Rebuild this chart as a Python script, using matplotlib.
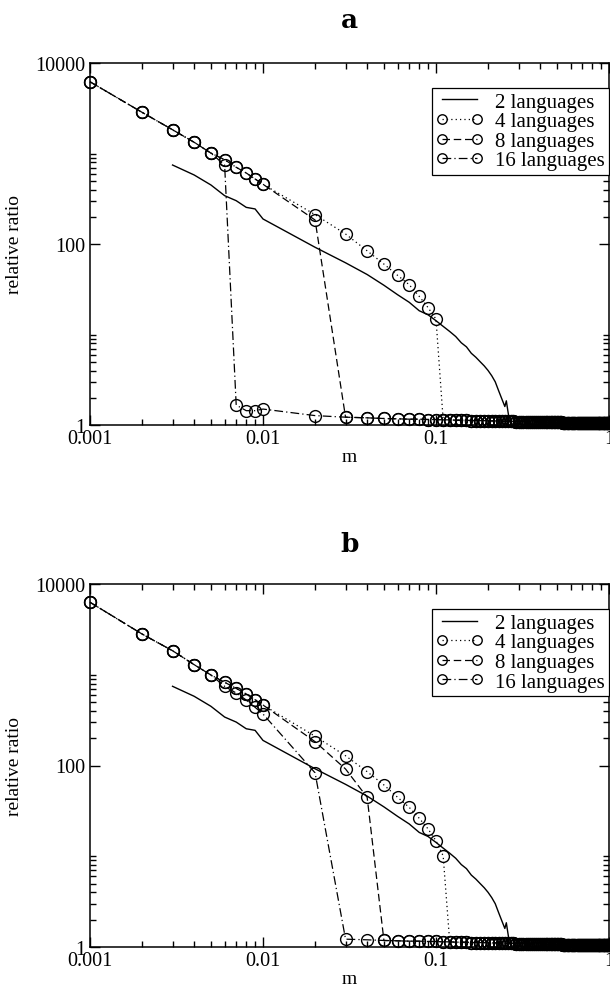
import numpy as np
import matplotlib.pyplot as plt
from matplotlib.ticker import FixedLocator, FixedFormatter, NullFormatter

plt.rcParams['font.family'] = ['Liberation Serif', 'DejaVu Serif']

# m grid: fine part (0.001 .. 0.009) and coarse part (0.01 .. 1.00)
m_fine = [0.001, 0.002, 0.003, 0.004, 0.005, 0.006, 0.007, 0.008, 0.009]
m_coarse = [0.01, 0.02, 0.03, 0.04, 0.05, 0.06, 0.07, 0.08, 0.09, 0.10,
            0.11, 0.12, 0.13, 0.14, 0.15, 0.16, 0.17, 0.18, 0.19, 0.20,
            0.21, 0.22, 0.23, 0.24, 0.25, 0.26, 0.27, 0.28, 0.29, 0.30,
            0.31, 0.32, 0.33, 0.34, 0.35, 0.36, 0.37, 0.38, 0.39, 0.40,
            0.41, 0.42, 0.43, 0.44, 0.45, 0.46, 0.47, 0.48, 0.49, 0.50,
            0.51, 0.52, 0.53, 0.54, 0.55, 0.56, 0.57, 0.58, 0.59, 0.60,
            0.61, 0.62, 0.63, 0.64, 0.65, 0.66, 0.67, 0.68, 0.69, 0.70,
            0.71, 0.72, 0.73, 0.74, 0.75, 0.76, 0.77, 0.78, 0.79, 0.80,
            0.81, 0.82, 0.83, 0.84, 0.85, 0.86, 0.87, 0.88, 0.89, 0.90,
            0.91, 0.92, 0.93, 0.94, 0.95, 0.96, 0.97, 0.98, 0.99, 1.00]
m_all = m_fine + m_coarse

# level after the collapse (one value per m_coarse entry)
collapsed = [1.50, 1.27, 1.22, 1.20, 1.18, 1.17, 1.16, 1.16, 1.15, 1.15,
             1.14, 1.14, 1.13, 1.13, 1.13, 1.12, 1.12, 1.12, 1.12, 1.11,
             1.11, 1.11, 1.11, 1.10, 1.10, 1.10, 1.10, 1.10, 1.09, 1.09,
             1.09, 1.09, 1.09, 1.09, 1.08, 1.08, 1.08, 1.08, 1.08, 1.08,
             1.08, 1.08, 1.07, 1.07, 1.07, 1.07, 1.07, 1.07, 1.07, 1.07,
             1.07, 1.07, 1.07, 1.06, 1.06, 1.06, 1.06, 1.06, 1.06, 1.06,
             1.06, 1.06, 1.06, 1.06, 1.06, 1.06, 1.06, 1.06, 1.05, 1.05,
             1.05, 1.05, 1.05, 1.05, 1.05, 1.05, 1.05, 1.05, 1.05, 1.05,
             1.05, 1.05, 1.05, 1.05, 1.05, 1.05, 1.05, 1.05, 1.05, 1.05,
             1.05, 1.05, 1.05, 1.05, 1.05, 1.05, 1.05, 1.05, 1.05, 1.05]

# 2 languages (same curve in both panels)
two_m = [0.003, 0.004, 0.005, 0.006, 0.007, 0.008, 0.009, 0.01, 0.02, 0.03,
         0.04, 0.05, 0.06, 0.07, 0.08, 0.09, 0.10, 0.11, 0.12, 0.13,
         0.14, 0.15, 0.16, 0.17, 0.18, 0.19, 0.20, 0.21, 0.22, 0.23,
         0.24, 0.25, 0.255, 0.26, 0.265, 0.27, 0.30, 0.50, 1.00]
two_v = [746, 579, 449, 342, 301, 254, 244, 189, 92, 62,
         46, 35, 27.5, 22.7, 18.3, 16.5, 14.2, 12.3, 10.8, 9.5,
         8.1, 7.3, 6.2, 5.6, 5.0, 4.5, 4.0, 3.5, 3.0, 2.4,
         1.95, 1.6, 1.85, 1.45, 1.15, 1.03, 1.02, 1.02, 1.02]

# panel a: values before the collapse
a4_head = [6200, 2850, 1830, 1330, 1010, 854, 704, 609, 523, 457,
           211, 129, 84, 60, 45, 35.5, 26.4, 19.8, 14.8]
a8_head = [6200, 2850, 1830, 1330, 1010, 854, 704, 609, 523, 457, 184]
a16_head = [6200, 2850, 1830, 1330, 1010, 746, 1.66, 1.44, 1.44]

# panel b: values before the collapse
b4_head = [6290, 2810, 1840, 1291, 994, 826, 708, 614, 531, 464,
           210, 128, 85.5, 61, 44.6, 34.6, 26.2, 20, 14.8, 10.1]
b8_head = [6290, 2810, 1840, 1291, 994, 826, 708, 614, 531, 464,
           183, 91.5, 44.6]
b16_head = [6290, 2810, 1840, 1291, 994, 746, 629, 527, 438, 369, 83]

labels = ['2 languages', '4 languages', '8 languages', '16 languages']


def full(head):
    return head + collapsed[len(head) - 9:]


fig = plt.figure(figsize=(6.1, 9.87), dpi=100)
axes_pos = [[90 / 610, 1 - 426 / 987, 519 / 610, 362 / 987],
            [90 / 610, 1 - 948 / 987, 519 / 610, 363 / 987]]
titles = ['a', 'b']
heads = [(a4_head, a8_head, a16_head), (b4_head, b8_head, b16_head)]
title_y = [20, 545]

mk = dict(marker='o', markersize=8.5, markerfacecolor='none',
          markeredgecolor='black', markeredgewidth=1.0, color='black', lw=0.9)

for k in range(2):
    ax = fig.add_axes(axes_pos[k])
    h4, h8, h16 = heads[k]
    ax.plot(two_m, two_v, color='black', lw=1.0, label=labels[0])
    ax.plot(m_all, full(h4), linestyle=(0, (1, 2.5)), label=labels[1],
            clip_on=False, **mk)
    ax.plot(m_all, full(h8), linestyle=(0, (6, 3)), label=labels[2],
            clip_on=False, **mk)
    ax.plot(m_all, full(h16), linestyle=(0, (7, 2.5, 1, 2.5)), label=labels[3],
            clip_on=False, **mk)

    ax.set_xscale('log')
    ax.set_yscale('log')
    ax.set_xlim(0.001, 1)
    ax.set_ylim(1, 10000)

    ax.xaxis.set_major_locator(FixedLocator([0.001, 0.01, 0.1, 1]))
    ax.xaxis.set_major_formatter(FixedFormatter(['0.001', '0.01', '0.1', '1']))
    xminor = [d * s for d in [0.001, 0.01, 0.1] for s in range(2, 10)]
    ax.xaxis.set_minor_locator(FixedLocator(xminor))
    ax.xaxis.set_minor_formatter(NullFormatter())

    ax.yaxis.set_major_locator(FixedLocator([1, 100, 10000]))
    ax.yaxis.set_major_formatter(FixedFormatter(['1', '100', '10000']))
    yminor = [d * s for d in [1, 100] for s in range(2, 11)]
    ax.yaxis.set_minor_locator(FixedLocator(yminor))
    ax.yaxis.set_minor_formatter(NullFormatter())

    ax.tick_params(which='both', direction='in', top=True, right=True,
                   width=1.0, labelsize=14.5, pad=3)
    ax.tick_params(which='major', length=7)
    ax.tick_params(which='minor', length=4)
    for s in ax.spines.values():
        s.set_linewidth(1.1)

    ax.set_xlabel('m', fontsize=14, labelpad=0)
    ax.set_ylabel('relative ratio', fontsize=14, labelpad=9)

    leg = ax.legend(loc='upper right', bbox_to_anchor=(1.0, 1 - 25 / 362),
                    borderaxespad=0, fontsize=15, numpoints=2,
                    handlelength=2.3, handletextpad=0.55, labelspacing=0.0,
                    borderpad=0.2, markerscale=0.8, fancybox=False,
                    framealpha=1, edgecolor='black')
    leg.get_frame().set_linewidth(0.9)

    fig.text(349.5 / 610, 1 - title_y[k] / 987, titles[k], ha='center',
             va='center', fontsize=19, fontweight='bold',
             family=['DejaVu Serif'])

fig.savefig('out.png', dpi=100)
